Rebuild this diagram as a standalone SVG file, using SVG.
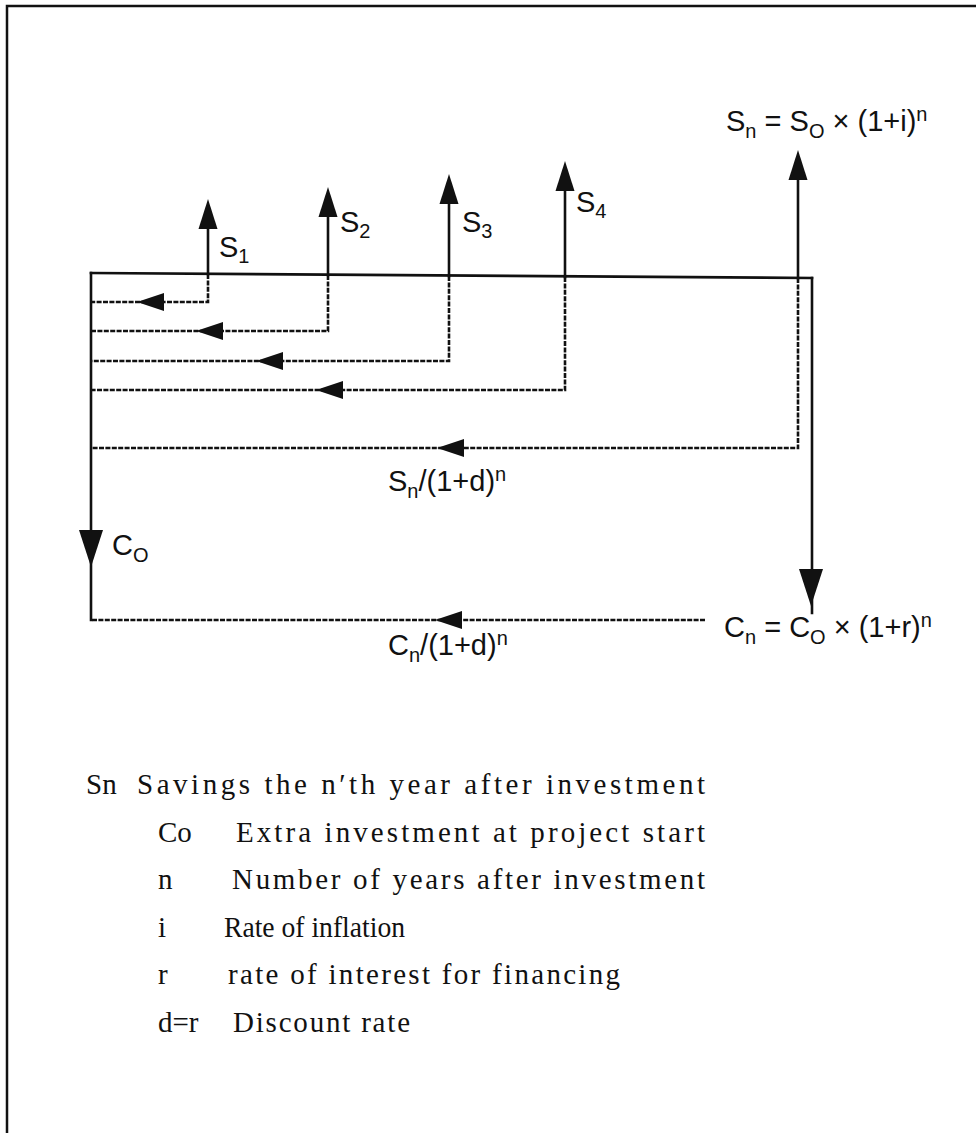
<svg xmlns="http://www.w3.org/2000/svg" xmlns:xlink="http://www.w3.org/1999/xlink" width="976" height="1133" viewBox="0 0 976 1133">
<style>
.solid{fill:none;stroke:#111;stroke-width:2.6;stroke-linecap:square}
.dash{fill:none;stroke:#111;stroke-width:2.6;stroke-dasharray:5 1.4}
.head{fill:#111;stroke:none}
.lbl{font-family:"Liberation Sans",Arial,sans-serif;font-size:29px;fill:#111}
.sub{font-size:20px}
.leg{font-family:"Liberation Serif","Times New Roman",serif;font-size:29px;fill:#111}
</style>
<defs>
<path id="up" d="M0,0 L-9.5,30 L9.5,30 Z"/>
<path id="left" d="M0,0 L27,-9 L27,9 Z"/>
<path id="down" d="M0,0 L-12,-37 L12,-37 Z"/>
</defs>
<rect x="0" y="0" width="976" height="1133" fill="#fff"/>
<path d="M7,1133 V6 H976" fill="none" stroke="#111" stroke-width="2.5"/>

<g id="connectors">
  <path class="solid" d="M91,273 L812,278"/>
  <path class="solid" d="M91,273 V620"/>
  <path class="solid" d="M812,278 V613"/>
  <path class="solid" d="M208,215 V274"/>
  <path class="dash" d="M208,274 V302 H91"/>
  <path class="solid" d="M328,203 V275"/>
  <path class="dash" d="M328,275 V331 H91"/>
  <path class="solid" d="M449,190 V276"/>
  <path class="dash" d="M449,276 V361 H91"/>
  <path class="solid" d="M565,177 V277"/>
  <path class="dash" d="M565,277 V390 H91"/>
  <path class="solid" d="M798,165 V278"/>
  <path class="dash" d="M798,278 V448 H91"/>
  <path class="dash" d="M705,620 H91"/>
  <use class="head" xlink:href="#up" href="#up" x="208" y="199"/>
  <use class="head" xlink:href="#up" href="#up" x="328" y="187"/>
  <use class="head" xlink:href="#up" href="#up" x="449" y="174"/>
  <use class="head" xlink:href="#up" href="#up" x="565" y="161"/>
  <use class="head" xlink:href="#up" href="#up" x="798" y="150"/>
  <use class="head" xlink:href="#left" href="#left" x="137" y="302"/>
  <use class="head" xlink:href="#left" href="#left" x="196" y="331"/>
  <use class="head" xlink:href="#left" href="#left" x="256" y="361"/>
  <use class="head" xlink:href="#left" href="#left" x="316" y="390"/>
  <use class="head" xlink:href="#left" href="#left" x="437" y="448"/>
  <use class="head" xlink:href="#left" href="#left" x="435" y="620"/>
  <use class="head" xlink:href="#down" href="#down" x="91" y="567"/>
  <use class="head" xlink:href="#down" href="#down" x="811" y="606"/>
</g>

<g id="label-S1"><text class="lbl" x="219" y="257">S<tspan class="sub" dy="6">1</tspan></text></g>
<g id="label-S2"><text class="lbl" x="340" y="232">S<tspan class="sub" dy="6">2</tspan></text></g>
<g id="label-S3"><text class="lbl" x="462" y="232">S<tspan class="sub" dy="6">3</tspan></text></g>
<g id="label-S4"><text class="lbl" x="576" y="212">S<tspan class="sub" dy="6">4</tspan></text></g>
<g id="label-Sn"><text class="lbl" x="726" y="131">S<tspan class="sub" dy="7">n</tspan><tspan dy="-7"> = S</tspan><tspan class="sub" dy="7">O</tspan><tspan dy="-7"> × (1+i)</tspan><tspan class="sub" dy="-10">n</tspan></text></g>
<g id="label-Sn-disc"><text class="lbl" x="388" y="491">S<tspan class="sub" dy="7">n</tspan><tspan dy="-7">/(1+d)</tspan><tspan class="sub" dy="-10">n</tspan></text></g>
<g id="label-Co"><text class="lbl" x="112" y="555">C<tspan class="sub" dy="7">O</tspan></text></g>
<g id="label-Cn"><text class="lbl" x="724" y="637">C<tspan class="sub" dy="7">n</tspan><tspan dy="-7"> = C</tspan><tspan class="sub" dy="7">O</tspan><tspan dy="-7"> × (1+r)</tspan><tspan class="sub" dy="-10">n</tspan></text></g>
<g id="label-Cn-disc"><text class="lbl" x="388" y="655">C<tspan class="sub" dy="7">n</tspan><tspan dy="-7">/(1+d)</tspan><tspan class="sub" dy="-10">n</tspan></text></g>

<g id="legend">
  <text class="leg" x="86" y="794">Sn</text>
  <text class="leg" x="137" y="794" textLength="568" lengthAdjust="spacing">Savings the n′th year after investment</text>
  <text class="leg" x="158" y="842">Co</text>
  <text class="leg" x="236" y="842" textLength="469" lengthAdjust="spacing">Extra investment at project start</text>
  <text class="leg" x="158" y="889">n</text>
  <text class="leg" x="232" y="889" textLength="473" lengthAdjust="spacing">Number of years after investment</text>
  <text class="leg" x="158" y="937">i</text>
  <text class="leg" x="224" y="937" textLength="181" lengthAdjust="spacingAndGlyphs">Rate of inflation</text>
  <text class="leg" x="158" y="984">r</text>
  <text class="leg" x="228" y="984" textLength="392" lengthAdjust="spacing">rate of interest for financing</text>
  <text class="leg" x="158" y="1032">d=r</text>
  <text class="leg" x="233" y="1032" textLength="177" lengthAdjust="spacing">Discount rate</text>
</g>
</svg>
